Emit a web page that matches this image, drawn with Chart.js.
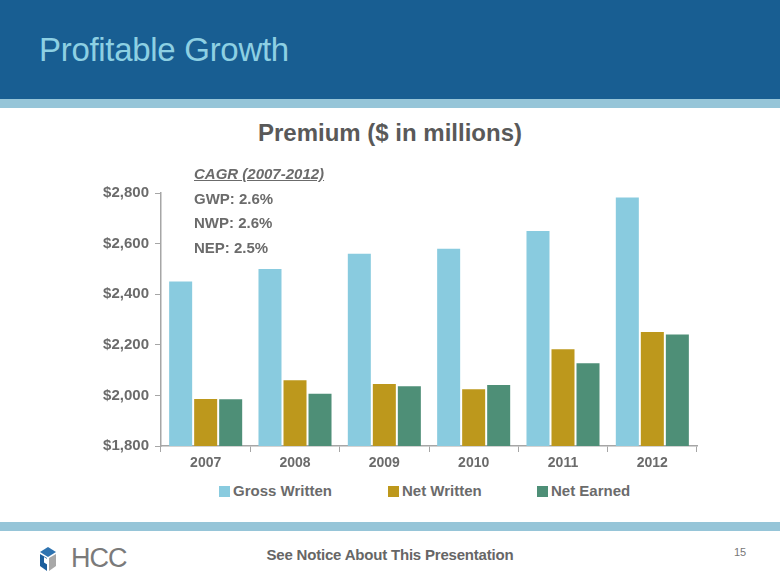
<!DOCTYPE html>
<html>
<head>
<meta charset="utf-8">
<script src="https://cdn.jsdelivr.net/npm/chart.js@4.4.1/dist/chart.umd.min.js"></script>
<style>
  html, body { margin: 0; padding: 0; }
  body { width: 780px; height: 585px; position: relative; overflow: hidden; background: #fff; font-family: "Liberation Sans", Arial, sans-serif; }
  #header { position: absolute; left: 0; top: 0; width: 780px; height: 99px; background: #185E92; }
  #header h1 { position: absolute; left: 39px; top: 31px; margin: 0; font-weight: normal; font-size: 33px; color: #8DD0E3; letter-spacing: -0.3px; }
  .strip { position: absolute; left: 0; width: 780px; height: 9px; background: #96C5D8; }
  #chartTitle { position: absolute; left: 0; top: 119px; width: 780px; text-align: center; font-weight: bold; font-size: 24px; color: #595959; }
  #cagr { position: absolute; left: 194px; top: 162px; font-weight: bold; font-size: 15px; color: #6B6B6B; line-height: 24.5px; }
  #cagr .head { font-style: italic; text-decoration: underline; }
  #chartBox { position: absolute; left: 80px; top: 150px; width: 630px; height: 326px; }
  #legend { position: absolute; left: 0; top: 482px; width: 780px; height: 20px; }
  #legend .item { position: absolute; top: 0; font-weight: bold; font-size: 15px; color: #6B6B6B; white-space: nowrap; }
  #legend .sw { display: inline-block; width: 11px; height: 11px; margin-right: 3px; vertical-align: -1px; }
  #footer-note { position: absolute; left: 0; top: 546px; width: 780px; text-align: center; font-weight: bold; font-size: 15px; color: #666; letter-spacing: -0.2px; }
  #page { position: absolute; left: 734px; top: 546px; font-size: 11px; color: #777; }
  #logo { position: absolute; left: 39px; top: 546px; }
  #logo span { position: absolute; left: 32px; top: -3px; font-size: 27px; color: #7A7A7A; letter-spacing: -1px; }
</style>
</head>
<body>
<div id="header"><h1>Profitable Growth</h1></div>
<div class="strip" style="top:99px"></div>
<div id="chartTitle">Premium ($ in millions)</div>
<div id="chartBox"><canvas id="premiumChart"></canvas></div>
<div id="cagr">
  <div class="head">CAGR (2007-2012)</div>
  <div>GWP: 2.6%</div>
  <div>NWP: 2.6%</div>
  <div>NEP: 2.5%</div>
</div>
<div id="legend"></div>
<div class="strip" style="top:522px"></div>
<div id="logo">
  <svg width="18" height="26" viewBox="0 0 18 26">
    <polygon points="9,1 17,6 9,11 1,6" fill="#2E73B0"/>
    <polygon points="1,8 8,12 8,25 1,20" fill="#1C5E9C"/>
    <polygon points="10,12 17,8 17,20 10,25" fill="#A8A8A8"/>
    <polygon points="5,11 9,13.5 9,19 5,16.5" fill="#fff"/>
  </svg>
  <span>HCC</span>
</div>
<div id="footer-note">See Notice About This Presentation</div>
<div id="page">15</div>

<script>
const years = ["2007", "2008", "2009", "2010", "2011", "2012"];
const grossWritten = [2450, 2500, 2560, 2580, 2650, 2782];
const netWritten = [1986, 2060, 2045, 2024, 2182, 2251];
const netEarned = [1985, 2007, 2036, 2041, 2127, 2241];
const yTicks = [1800, 2000, 2200, 2400, 2600, 2800];

const seriesColors = ["#89CBDF", "#BD981C", "#4E8F77"];
const legendLeft = [219, 388, 537];
const textGray = "#6B6B6B";
const axisGray = "#A6A6A6";
const fontFamily = "'Liberation Sans', Arial, sans-serif";

function barSet(label, data, color) {
    return {
        label: label,
        data: data,
        backgroundColor: color,
        borderWidth: 0,
        categoryPercentage: 0.84,
        barPercentage: 0.92,
    };
}

const ctx = document.getElementById("premiumChart").getContext("2d");
const premiumChart = new Chart(ctx, {
    type: "bar",
    data: {
        labels: years,
        datasets: [
            barSet("Gross Written", grossWritten, seriesColors[0]),
            barSet("Net Written", netWritten, seriesColors[1]),
            barSet("Net Earned", netEarned, seriesColors[2]),
        ],
    },
    options: {
        responsive: true,
        maintainAspectRatio: false,
        animation: false,
        layout: {
            padding: { top: 43, right: 13, bottom: 0, left: 0 },
        },
        plugins: {
            legend: { display: false },
            tooltip: { enabled: false },
        },
        scales: {
            x: {
                afterFit: function (scale) {
                    scale.height = 30;
                },
                grid: {
                    display: true,
                    drawOnChartArea: false,
                    color: axisGray,
                    tickLength: 6,
                    offset: true,
                },
                border: { color: axisGray, width: 1.5 },
                ticks: {
                    color: textGray,
                    padding: 3,
                    font: { family: fontFamily, size: 14, weight: "bold" },
                },
            },
            y: {
                min: 1800,
                max: 2800,
                afterBuildTicks: function (scale) {
                    scale.ticks = yTicks.map(function (v) { return { value: v }; });
                },
                afterFit: function (scale) {
                    scale.width = 81;
                },
                grid: {
                    display: true,
                    drawOnChartArea: false,
                    color: axisGray,
                    tickLength: 6,
                },
                border: { color: axisGray, width: 1.5 },
                ticks: {
                    color: textGray,
                    padding: 6,
                    font: { family: fontFamily, size: 15, weight: "bold" },
                    callback: function (value) {
                        return "$" + value.toLocaleString("en-US");
                    },
                },
            },
        },
    },
});

// legend in html, spaced like the slide
const legendEl = document.getElementById("legend");
premiumChart.data.datasets.forEach(function (ds, i) {
    const item = document.createElement("div");
    item.className = "item";
    item.style.left = legendLeft[i] + "px";
    item.innerHTML = '<span class="sw" style="background:' + ds.backgroundColor + '"></span>' + ds.label;
    legendEl.appendChild(item);
});
</script>
</body>
</html>
